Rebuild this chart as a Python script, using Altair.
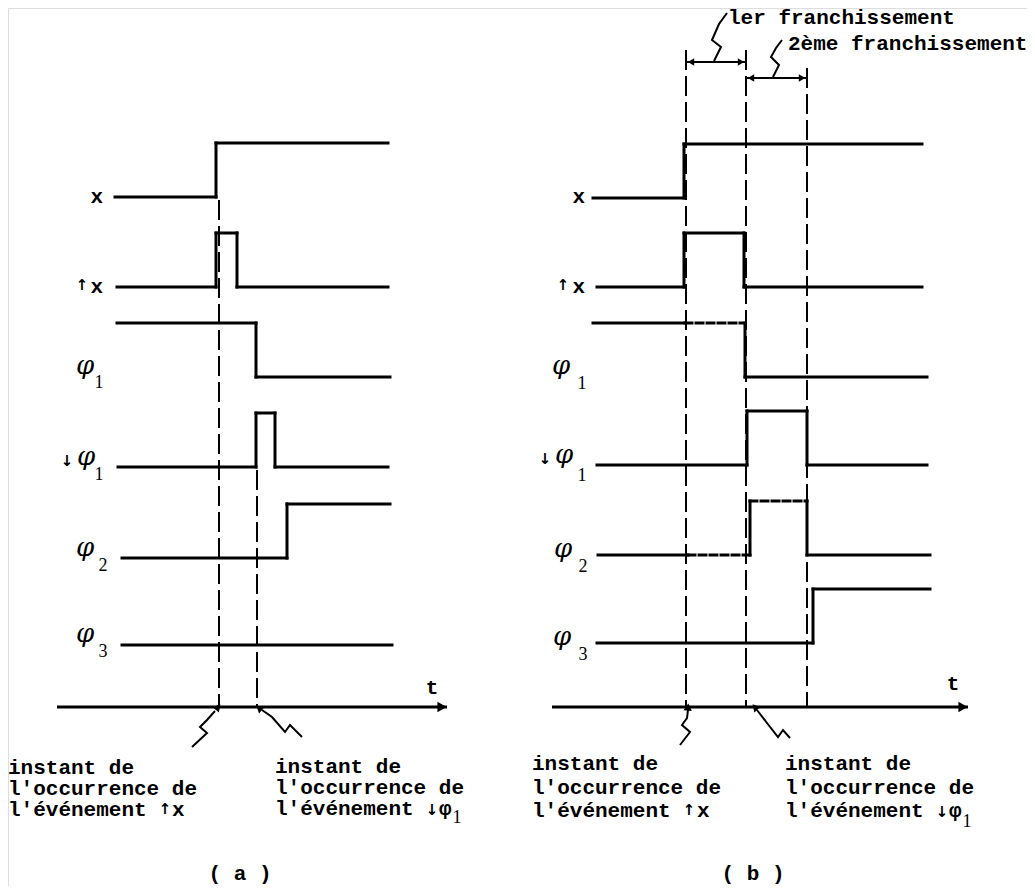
import altair as alt
import pandas as pd

# ---------------- data ----------------
signals = ["x", "↑x", "φ1", "↓φ1", "φ2", "φ3"]
amp = 54

# panel (a)
a_base = [197, 287, 377, 467, 558, 645]
a_start = [115, 117, 117, 118, 122, 122]
a_end = [388, 388, 390, 388, 390, 392]
a_init = [0, 0, 1, 0, 0, 0]
a_edges = [[216], [216, 237], [256], [256, 275], [287], []]
a_dashed = [[], [], [], [], [], []]

# panel (b)
b_base = [198, 287, 377, 465, 555, 643]
b_start = [593, 597, 593, 597, 598, 597]
b_end = [922, 922, 927, 927, 930, 930]
b_init = [0, 0, 1, 0, 0, 0]
b_edges = [[684], [684, 744], [745], [747, 807], [750, 807], [813]]
b_dashed = [[], [], [(685, 745)], [], [(688, 750), (750, 807)], []]

# event guide lines (time instants)
guide_t = [219, 257, 686, 746, 807]
guide_top = [200, 470, 50, 50, 68]
guide_bottom = [707, 707, 707, 707, 707]

# time axes
axis_y = [707, 707]
axis_from = [57, 552]
axis_to = [447, 968]

# dimension arrows (franchissements)
dim_y = [62, 78]
dim_from = [686, 746]
dim_to = [746, 807]

# leaders: list of polylines
leaders = [
    [(192, 747), (207, 733), (200, 727), (207, 720), (215, 711)],
    [(302, 737), (290, 725), (285, 732), (272, 717), (262, 710)],
    [(680, 745), (690, 732), (682, 725), (687, 718), (688, 710)],
    [(790, 738), (783, 730), (778, 737), (767, 723), (757, 710)],
    [(727, 13), (719, 24), (712, 40), (721, 47), (714, 61)],
    [(782, 40), (776, 48), (771, 57), (779, 65), (773, 77)],
]
leader_tip_x = [218, 259, 688, 755]
leader_tip_y = [707, 708, 707, 707]
leader_tip_angle = [40, 310, 5, 318]

# ---------------- build tables ----------------
def build(base, start, end, init, edges, dashed):
    segs = []
    for i in range(len(base)):
        y0 = base[i]
        y1 = base[i] - amp
        times = [start[i]] + edges[i] + [end[i]]
        lvl = init[i]
        for k in range(len(times) - 1):
            a, b = times[k], times[k + 1]
            yy = y1 if lvl else y0
            cuts = sorted(set([a, b] + [c for d in dashed[i] for c in d if a < c < b]))
            for s in range(len(cuts) - 1):
                p, q = cuts[s], cuts[s + 1]
                style = "solid"
                for d in dashed[i]:
                    if d[0] <= p and q <= d[1]:
                        style = "dash"
                segs.append(dict(x=p, x2=q, y=yy, y2=yy, style=style))
            if k < len(times) - 2:
                segs.append(dict(x=b, x2=b, y=y0, y2=y1, style="solid"))
                lvl = 1 - lvl
    return segs

wave_df = pd.DataFrame(build(a_base, a_start, a_end, a_init, a_edges, a_dashed)
                       + build(b_base, b_start, b_end, b_init, b_edges, b_dashed))

guide_df = pd.DataFrame(dict(x=guide_t, x2=guide_t, y=guide_top, y2=guide_bottom))
axis_df = pd.DataFrame(dict(x=axis_from, x2=axis_to, y=axis_y, y2=axis_y))
dim_df = pd.DataFrame(dict(x=dim_from, x2=dim_to, y=dim_y, y2=dim_y))

lead_rows = []
for li, pts in enumerate(leaders):
    for oi, (px, py) in enumerate(pts):
        lead_rows.append(dict(id=li, o=oi, x=px, y=py))
lead_df = pd.DataFrame(lead_rows)

heads = []
for i in range(len(axis_to)):
    heads.append(dict(x=axis_to[i] - 5, y=axis_y[i], shape="triangle-right", size=110))
for i in range(len(dim_y)):
    heads.append(dict(x=dim_from[i] + 5, y=dim_y[i], shape="triangle-left", size=55))
    heads.append(dict(x=dim_to[i] - 5, y=dim_y[i], shape="triangle-right", size=55))
head_df = pd.DataFrame(heads)
tip_df = pd.DataFrame(dict(x=leader_tip_x, y=leader_tip_y, angle=leader_tip_angle))

# labels
mono_labels = pd.DataFrame(dict(
    x=[103, 103, 585, 585, 172, 697, 439, 949],
    y=[197, 287, 197, 287, 810, 811, 809, 811],
    text=["x", "x", "x", "x", "x", "x", "φ", "φ"],
    align=["right", "right", "right", "right", "left", "left", "left", "left"],
))
phi_labels = pd.DataFrame(dict(
    x=[85, 86, 85, 85, 561, 564, 563, 562],
    y=[366, 457, 548, 634, 366, 455, 549, 637],
    text=["φ", "φ", "φ", "φ", "φ", "φ", "φ", "φ"],
))
arrow_labels = pd.DataFrame(dict(
    x=[82, 563, 67, 545, 165, 689, 432, 942],
    y=[285, 285, 461, 459, 809, 810, 810, 812],
    text=["↑", "↑", "↓", "↓", "↑", "↑", "↓", "↓"],
))
sub_labels = pd.DataFrame(dict(
    x=[99, 99, 103, 103, 582, 582, 583, 583, 457, 967],
    y=[383, 475, 566, 652, 384, 476, 567, 655, 818, 822],
    text=["1", "1", "2", "3", "1", "1", "2", "3", "1", "1"],
))

text_left = pd.DataFrame(dict(
    x=[8, 8, 8, 275, 275, 275, 532, 532, 532, 785, 785, 785, 728, 788],
    y=[768, 789, 810, 767, 788, 809, 764, 788, 811, 764, 788, 811, 18, 44],
    text=["instant de", "l'occurrence de", "l'événement",
          "instant de", "l'occurrence de", "l'événement",
          "instant de", "l'occurrence de", "l'événement",
          "instant de", "l'occurrence de", "l'événement",
          "ler franchissement", "2ème franchissement"],
))
text_center = pd.DataFrame(dict(
    x=[240, 753, 432, 953],
    y=[874, 874, 688, 684],
    text=["( a )", "( b )", "t", "t"],
))

MONO = "Liberation Mono, DejaVu Sans Mono"

# ---------------- chart ----------------
W, H = 1019, 878
xs = alt.Scale(domain=[8, 1027], range=[0, W], nice=False, zero=False)
ys = alt.Scale(domain=[8, 886], reverse=True, nice=False, zero=False)
X = lambda f="x": alt.X(f"{f}:Q", scale=xs, axis=None)
Y = lambda f="y": alt.Y(f"{f}:Q", scale=ys, axis=None)

waves = alt.Chart(wave_df).mark_rule(strokeWidth=3, color="black", strokeCap="square").encode(
    x=X(), x2="x2:Q", y=Y(), y2="y2:Q",
    strokeDash=alt.StrokeDash("style:N", scale=alt.Scale(domain=["solid", "dash"], range=[[1, 0], [7, 4]]), legend=None),
)
guides = alt.Chart(guide_df).mark_rule(strokeWidth=2, color="black", strokeDash=[20, 6]).encode(
    x=X(), x2="x2:Q", y=Y(), y2="y2:Q")
axes = alt.Chart(axis_df).mark_rule(strokeWidth=3, color="black").encode(
    x=X(), x2="x2:Q", y=Y(), y2="y2:Q")
dims = alt.Chart(dim_df).mark_rule(strokeWidth=2, color="black").encode(
    x=X(), x2="x2:Q", y=Y(), y2="y2:Q")
leads = alt.Chart(lead_df).mark_line(strokeWidth=2, color="black").encode(
    x=X(), y=Y(), detail="id:N", order="o:Q")
heads_l = alt.Chart(head_df).mark_point(filled=True, color="black", opacity=1).encode(
    x=X(), y=Y(),
    shape=alt.Shape("shape:N", scale=None),
    size=alt.Size("size:Q", scale=None))
tips = alt.Chart(tip_df).mark_point(filled=True, color="black", opacity=1, shape="triangle-up", size=70).encode(
    x=X(), y=Y(), angle=alt.Angle("angle:Q", scale=None))

mono_r = alt.Chart(mono_labels).transform_filter("datum.align == 'right'").mark_text(
    font=MONO, fontSize=21, fontWeight="bold", color="black", align="right", baseline="middle"
).encode(x=X(), y=Y(), text="text:N")
mono_l = alt.Chart(mono_labels).transform_filter("datum.align == 'left'").mark_text(
    font=MONO, fontSize=21, fontWeight="bold", color="black", align="left", baseline="middle"
).encode(x=X(), y=Y(), text="text:N")
phis = alt.Chart(phi_labels).mark_text(font="DejaVu Serif", fontSize=26, fontStyle="italic", color="black",
                                       align="center", baseline="middle").encode(x=X(), y=Y(), text="text:N")
arrs = alt.Chart(arrow_labels).mark_text(font="DejaVu Sans", fontSize=15, fontWeight="bold", color="black",
                                         align="center", baseline="middle").encode(x=X(), y=Y(), text="text:N")
subs = alt.Chart(sub_labels).mark_text(font="Liberation Serif", fontSize=18, color="black", align="center",
                                       baseline="middle").encode(x=X(), y=Y(), text="text:N")
tl = alt.Chart(text_left).mark_text(font=MONO, fontSize=21, fontWeight="bold", color="black", align="left",
                                    baseline="middle").encode(x=X(), y=Y(), text="text:N")
tc = alt.Chart(text_center).mark_text(font=MONO, fontSize=21, fontWeight="bold", color="black", align="center",
                                      baseline="middle").encode(x=X(), y=Y(), text="text:N")

chart = alt.layer(waves, guides, axes, dims, leads, heads_l, tips, mono_r, mono_l, phis, arrs, subs, tl, tc).properties(
    width=W, height=H, padding=0, autosize=alt.AutoSizeParams(type="none"),
).configure_view(stroke=None).configure(background="white")

chart.save("out.html", embed_options={"renderer": "svg", "actions": False})
